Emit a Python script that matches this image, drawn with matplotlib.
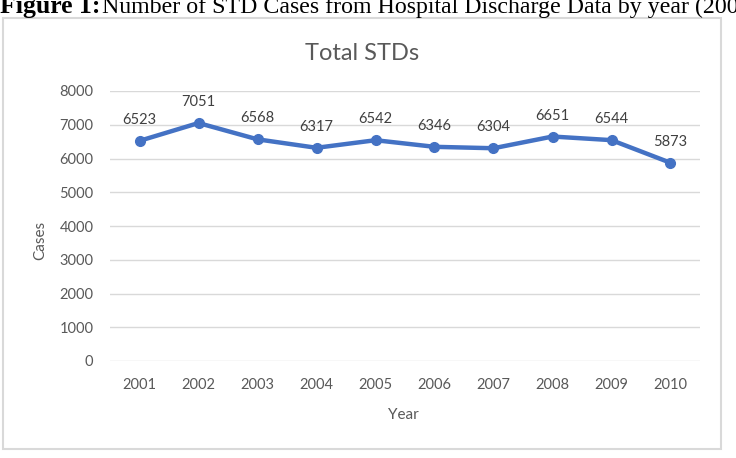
import matplotlib
matplotlib.use("Agg")
import matplotlib.pyplot as plt
from matplotlib.patches import Rectangle

years = ["2001", "2002", "2003", "2004", "2005", "2006", "2007", "2008", "2009", "2010"]
cases = [6523, 7051, 6568, 6317, 6542, 6346, 6304, 6651, 6544, 5873]
y_ticks = [0, 1000, 2000, 3000, 4000, 5000, 6000, 7000, 8000]

W, H = 736, 458
fig = plt.figure(figsize=(W / 100, H / 100), dpi=100)
fig.patch.set_facecolor("white")

def fx(px):
    return px / W

def fy(py):
    return 1 - py / H

# header caption (cut at top and right edge, as in the reference)
fig.text(fx(0), fy(13), "Figure 1:", fontfamily="Liberation Serif", fontweight="bold",
         fontsize=18.5, color="black", ha="left", va="baseline")
fig.text(fx(102), fy(13), "Number of STD Cases from Hospital Discharge Data by year (200",
         fontfamily="Liberation Serif", fontsize=17.2, color="black", ha="left", va="baseline")

# chart border
fig.patches.append(Rectangle((fx(3), fy(449)), fx(721) - fx(3), fy(18) - fy(449),
                             transform=fig.transFigure, fill=False,
                             edgecolor="#d9d9d9", linewidth=1.5))

ax = fig.add_axes([fx(110), fy(361), fx(700) - fx(110), fy(91) - fy(361)])
ax.set_facecolor("none")
x = list(range(len(years)))
ax.plot(x, cases, color="#4472C4", linewidth=3.2, marker="o", markersize=7,
        solid_capstyle="round", zorder=3)
for xi, v in zip(x, cases):
    ax.annotate(str(v), (xi, v), xytext=(0, 10), textcoords="offset points",
                ha="center", va="bottom", fontsize=10.5, color="#404040", fontfamily="Lato")

ax.set_xlim(-0.5, len(years) - 0.5)
ax.set_ylim(0, 8000)
ax.set_yticks(y_ticks)
ax.set_yticklabels([str(t) for t in y_ticks])
ax.set_xticks(x)
ax.set_xticklabels(years)
ax.grid(axis="y", color="#d9d9d9", linewidth=1)
ax.set_axisbelow(True)
for s in ax.spines.values():
    s.set_visible(False)
ax.tick_params(length=0, labelsize=10.5, labelcolor="#595959", pad=12)
for lab in ax.get_xticklabels() + ax.get_yticklabels():
    lab.set_fontfamily("Lato")

fig.text(fx(362), fy(60), "Total STDs", fontfamily="Lato", fontsize=17, color="#595959",
         ha="center", va="baseline")
fig.text(fx(40), fy(240), "Cases", fontfamily="Lato", fontsize=11, color="#595959",
         ha="center", va="center", rotation=90)
fig.text(fx(403), fy(415), "Year", fontfamily="Lato", fontsize=11, color="#595959",
         ha="center", va="center")

fig.savefig("out.png", dpi=100, facecolor="white")
